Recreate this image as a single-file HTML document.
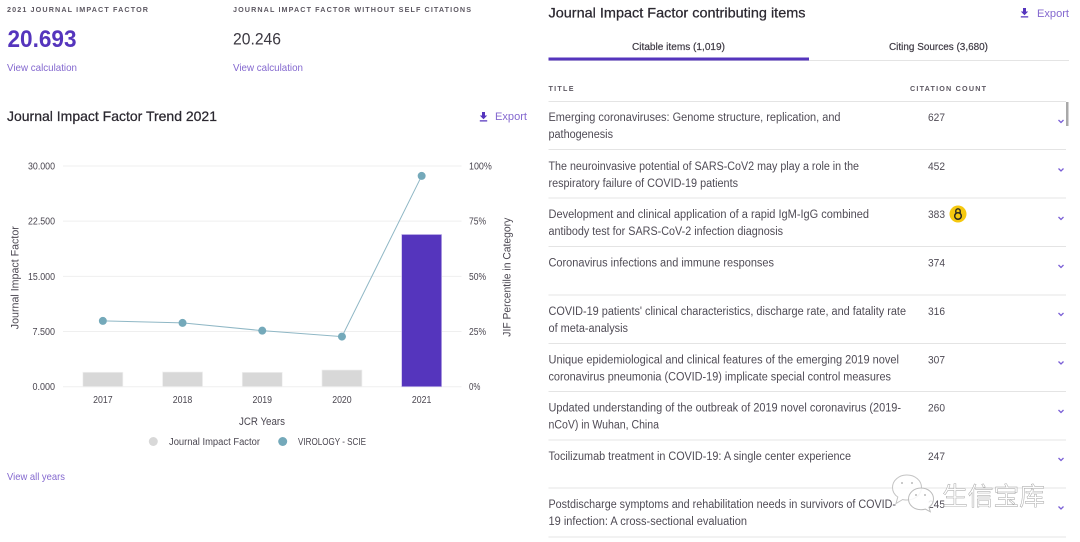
<!DOCTYPE html>
<html lang="en">
<head>
<meta charset="utf-8">
<title>Journal Impact Factor</title>
<style>
html,body{margin:0;padding:0;background:#fff;width:1080px;height:542px;overflow:hidden}
svg{display:block}
text{font-family:"Liberation Sans","Noto Sans CJK SC",sans-serif;fill:#4a4650}
.lab{font-size:7.2px;font-weight:bold;fill:#5d5862}
.link{font-size:10.5px;fill:#8468cf}
.h{font-size:14px;fill:#2b2830;stroke:#2b2830;stroke-width:.25px}
.row{font-size:11.5px;fill:#4f4b55}
.cnt{font-size:11px;fill:#4f4b55}
.tab{font-size:10.5px;fill:#3f3b45;stroke:#3f3b45;stroke-width:.2px}
.rule{stroke:#e4e4e4;stroke-width:1}
.chev{fill:none;stroke:#7a5fd6;stroke-width:1.3}
</style>
</head>
<body>
<svg id="page" width="1080" height="542" viewBox="0 0 1080 542" xmlns="http://www.w3.org/2000/svg">
  <rect width="1080" height="542" fill="#fff"/>

  <text class="lab" x="7" y="12" textLength="141" lengthAdjust="spacing">2021 JOURNAL IMPACT FACTOR</text>
  <text x="7.5" y="47" font-size="24" font-weight="bold" style="fill:#5535bd" textLength="69" lengthAdjust="spacingAndGlyphs">20.693</text>
  <text class="link" x="7" y="71" textLength="70" lengthAdjust="spacingAndGlyphs">View calculation</text>

  <text class="lab" x="233" y="12" textLength="238" lengthAdjust="spacing">JOURNAL IMPACT FACTOR WITHOUT SELF CITATIONS</text>
  <text x="233" y="44.500" font-size="17" style="fill:#3b3841" textLength="48" lengthAdjust="spacingAndGlyphs">20.246</text>
  <text class="link" x="233" y="71" textLength="70" lengthAdjust="spacingAndGlyphs">View calculation</text>

  <text class="h" x="7" y="121" textLength="210" lengthAdjust="spacingAndGlyphs">Journal Impact Factor Trend 2021</text>
  <g>
    <path d="M482 112h3v3.500h2.200l-3.700 3.700-3.700-3.700H482zM479.800 120.300h7.400v1.200h-7.400z" fill="#5535bd"/>
    <text x="495" y="120" font-size="11" style="fill:#8468cf" textLength="32" lengthAdjust="spacingAndGlyphs">Export</text>
  </g>

  <g id="chart"></g>

  <g>
    <circle cx="153.300" cy="441.500" r="4.500" fill="#d8d8d8"/>
    <text x="169" y="445" font-size="10" textLength="91" lengthAdjust="spacingAndGlyphs">Journal Impact Factor</text>
    <circle cx="282.700" cy="441.500" r="4.500" fill="#74a9ba"/>
    <text x="298" y="445" font-size="10" textLength="68" lengthAdjust="spacingAndGlyphs">VIROLOGY - SCIE</text>
  </g>
  <text class="link" x="7" y="480" textLength="58" lengthAdjust="spacingAndGlyphs">View all years</text>

  <text class="h" x="548.500" y="17.500" textLength="257" lengthAdjust="spacingAndGlyphs">Journal Impact Factor contributing items</text>
  <g>
    <path d="M1023 8h3v3.500h2.200l-3.700 3.700-3.700-3.700h2.200zM1020.800 16.300h7.400v1.200h-7.400z" fill="#5535bd"/>
    <text x="1037" y="17" font-size="11" style="fill:#8468cf" textLength="32" lengthAdjust="spacingAndGlyphs">Export</text>
  </g>

  <text class="tab" x="632" y="50" textLength="93" lengthAdjust="spacingAndGlyphs">Citable items (1,019)</text>
  <text class="tab" x="889" y="50" textLength="99" lengthAdjust="spacingAndGlyphs">Citing Sources (3,680)</text>
  <line class="rule" x1="548.500" y1="60.500" x2="1069" y2="60.500"/>
  <rect x="548.500" y="57.500" width="260.500" height="3" fill="#5535bd"/>

  <text class="lab" x="548.500" y="91" textLength="25" lengthAdjust="spacing">TITLE</text>
  <text class="lab" x="910" y="91" textLength="76" lengthAdjust="spacing">CITATION COUNT</text>

  <line class="rule" x1="548.500" y1="101.500" x2="1066" y2="101.500"/>
  <rect x="1066" y="102" width="2.500" height="24" fill="#a9a9a9"/>

  <g>
    <text class="row" x="548.500" y="121" textLength="292" lengthAdjust="spacingAndGlyphs">Emerging coronaviruses: Genome structure, replication, and</text>
    <text class="row" x="548.500" y="138" textLength="64.500" lengthAdjust="spacingAndGlyphs">pathogenesis</text>
    <text class="cnt" x="928" y="121" textLength="17" lengthAdjust="spacingAndGlyphs">627</text>
    <polyline class="chev" points="1058.500,120 1061,122.500 1063.500,120"/>
    <line class="rule" x1="548.500" y1="149.500" x2="1066" y2="149.500"/>
  </g>
  <g>
    <text class="row" x="548.500" y="170" textLength="310.500" lengthAdjust="spacingAndGlyphs">The neuroinvasive potential of SARS-CoV2 may play a role in the</text>
    <text class="row" x="548.500" y="187" textLength="189.500" lengthAdjust="spacingAndGlyphs">respiratory failure of COVID-19 patients</text>
    <text class="cnt" x="928" y="170" textLength="17" lengthAdjust="spacingAndGlyphs">452</text>
    <polyline class="chev" points="1058.500,168.500 1061,171 1063.500,168.500"/>
    <line class="rule" x1="548.500" y1="198" x2="1066" y2="198"/>
  </g>
  <g>
    <text class="row" x="548.500" y="218" textLength="320.500" lengthAdjust="spacingAndGlyphs">Development and clinical application of a rapid IgM-IgG combined</text>
    <text class="row" x="548.500" y="235" textLength="234.500" lengthAdjust="spacingAndGlyphs">antibody test for SARS-CoV-2 infection diagnosis</text>
    <text class="cnt" x="928" y="218" textLength="17" lengthAdjust="spacingAndGlyphs">383</text>
    <g>
      <circle cx="958" cy="214" r="8.500" fill="#f5c80f"/>
      <circle cx="958" cy="216" r="3.300" fill="none" stroke="#2b2820" stroke-width="1.500"/>
      <path d="M955.800 212.800v-1.800a2.200 2.200 0 0 1 4.400 0v2.300" fill="none" stroke="#2b2820" stroke-width="1.400"/>
    </g>
    <polyline class="chev" points="1058.500,217 1061,219.500 1063.500,217"/>
    <line class="rule" x1="548.500" y1="246.500" x2="1066" y2="246.500"/>
  </g>
  <g>
    <text class="row" x="548.500" y="266.500" textLength="225.500" lengthAdjust="spacingAndGlyphs">Coronavirus infections and immune responses</text>
    <text class="cnt" x="928" y="266.500" textLength="17" lengthAdjust="spacingAndGlyphs">374</text>
    <polyline class="chev" points="1058.500,265 1061,267.500 1063.500,265"/>
    <line class="rule" x1="548.500" y1="295" x2="1066" y2="295"/>
  </g>
  <g>
    <text class="row" x="548.500" y="315" textLength="357.500" lengthAdjust="spacingAndGlyphs">COVID-19 patients' clinical characteristics, discharge rate, and fatality rate</text>
    <text class="row" x="548.500" y="332" textLength="79.500" lengthAdjust="spacingAndGlyphs">of meta-analysis</text>
    <text class="cnt" x="928" y="315" textLength="17" lengthAdjust="spacingAndGlyphs">316</text>
    <polyline class="chev" points="1058.500,313 1061,315.500 1063.500,313"/>
    <line class="rule" x1="548.500" y1="343.500" x2="1066" y2="343.500"/>
  </g>
  <g>
    <text class="row" x="548.500" y="363.500" textLength="350.500" lengthAdjust="spacingAndGlyphs">Unique epidemiological and clinical features of the emerging 2019 novel</text>
    <text class="row" x="548.500" y="380.500" textLength="342.500" lengthAdjust="spacingAndGlyphs">coronavirus pneumonia (COVID-19) implicate special control measures</text>
    <text class="cnt" x="928" y="363.500" textLength="17" lengthAdjust="spacingAndGlyphs">307</text>
    <polyline class="chev" points="1058.500,361.500 1061,364 1063.500,361.500"/>
    <line class="rule" x1="548.500" y1="391.500" x2="1066" y2="391.500"/>
  </g>
  <g>
    <text class="row" x="548.500" y="411.500" textLength="352.500" lengthAdjust="spacingAndGlyphs">Updated understanding of the outbreak of 2019 novel coronavirus (2019-</text>
    <text class="row" x="548.500" y="428.500" textLength="110.500" lengthAdjust="spacingAndGlyphs">nCoV) in Wuhan, China</text>
    <text class="cnt" x="928" y="411.500" textLength="17" lengthAdjust="spacingAndGlyphs">260</text>
    <polyline class="chev" points="1058.500,410 1061,412.500 1063.500,410"/>
    <line class="rule" x1="548.500" y1="440" x2="1066" y2="440"/>
  </g>
  <g>
    <text class="row" x="548.500" y="460" textLength="302.500" lengthAdjust="spacingAndGlyphs">Tocilizumab treatment in COVID-19: A single center experience</text>
    <text class="cnt" x="928" y="460" textLength="17" lengthAdjust="spacingAndGlyphs">247</text>
    <polyline class="chev" points="1058.500,458 1061,460.500 1063.500,458"/>
    <line class="rule" x1="548.500" y1="488" x2="1066" y2="488"/>
  </g>
  <g>
    <text class="row" x="548.500" y="508" textLength="347.500" lengthAdjust="spacingAndGlyphs">Postdischarge symptoms and rehabilitation needs in survivors of COVID-</text>
    <text class="row" x="548.500" y="525" textLength="198.500" lengthAdjust="spacingAndGlyphs">19 infection: A cross-sectional evaluation</text>
    <text class="cnt" x="928" y="508" textLength="17" lengthAdjust="spacingAndGlyphs">245</text>
    <polyline class="chev" points="1058.500,506.500 1061,509 1063.500,506.500"/>
    <line class="rule" x1="548.500" y1="537" x2="1066" y2="537"/>
  </g>

  <g>
    <path d="M907 475c8 0 14.500 5.500 14.500 12.500S915 500 907 500c-1.500 0-3 0-4.300-.5l-6.700 4 1.800-6.500c-3.500-2.300-5.300-5.500-5.300-9.500 0-7 6.500-12.500 14-12.500z" fill="#fff" fill-opacity=".75" stroke="#c4c4c4"/>
    <circle cx="902" cy="483" r="1" fill="#bbb"/>
    <circle cx="912" cy="483" r="1" fill="#bbb"/>
    <path d="M921 488c7 0 12.500 4.700 12.500 11 0 3.500-1.700 6.300-4.500 8.300l1.300 4.500-5-2.700c-1.300.4-2.800.6-4.300.6-7 0-12.500-4.700-12.500-10.700s5.500-11 12.500-11z" fill="#fff" fill-opacity=".85" stroke="#bcbcbc"/>
    <circle cx="916" cy="495" r="1" fill="#bbb"/>
    <circle cx="925" cy="495" r="1" fill="#bbb"/>
    <text x="942" y="505" font-size="25" style="fill:#fff;fill-opacity:.7;stroke:#a2a2a2;stroke-width:.45;font-family:'Liberation Sans','WenQuanYi Zen Hei','Noto Sans CJK SC',sans-serif" textLength="103" lengthAdjust="spacingAndGlyphs">生信宝库</text>
  </g>
</svg>

<script>
var years = ["2017", "2018", "2019", "2020", "2021"];
var impactFactor = [1.96, 2.0, 1.95, 2.27, 20.693];
var percentile = [29.8, 28.9, 25.4, 22.7, 95.5];
var leftTicks = [0, 7.5, 15, 22.5, 30];
var leftTickLabels = ["0.000", "7.500", "15.000", "22.500", "30.000"];
var rightTicks = [0, 25, 50, 75, 100];
var rightTickLabels = ["0%", "25%", "50%", "75%", "100%"];

var NS = "http://www.w3.org/2000/svg";
var chart = document.getElementById("chart");
var plotLeft = 63, plotRight = 461.5, plotTop = 166, plotBottom = 386.7;
var band = (plotRight - plotLeft) / years.length;
function xScale(i) { return plotLeft + band * (i + 0.5); }
function yLeft(v) { return plotBottom - (v / 30) * (plotBottom - plotTop); }
function yRight(v) { return plotBottom - (v / 100) * (plotBottom - plotTop); }
function make(tag, attrs, txt) {
  var el = document.createElementNS(NS, tag);
  for (var k in attrs) { el.setAttribute(k, attrs[k]); }
  if (txt !== undefined) { el.textContent = txt; }
  chart.appendChild(el);
  return el;
}
var el, i;
for (i = 0; i < leftTicks.length; i++) {
  el = make("line", {x1: plotLeft, x2: plotRight, y1: yLeft(leftTicks[i]), y2: yLeft(leftTicks[i]), stroke: "#efefef", "stroke-width": 1});
  
  
  el = make("text", {x: 55, y: yLeft(leftTicks[i]) + 3.5, "text-anchor": "end", "font-size": 10, textLength: leftTickLabels[i].length * 4.5, lengthAdjust: "spacingAndGlyphs"}, leftTickLabels[i]);
  
  
}
for (i = 0; i < rightTicks.length; i++) {
  el = make("text", {x: 469, y: yRight(rightTicks[i]) + 3.5, "font-size": 10, textLength: rightTickLabels[i].length * 5.7, lengthAdjust: "spacingAndGlyphs"}, rightTickLabels[i]);
  
  
}
for (i = 0; i < years.length; i++) {
  var last = i === years.length - 1;
  var barTop = yLeft(impactFactor[i]);
  el = make("rect", {x: xScale(i) - 20, y: barTop, width: 40, height: plotBottom - barTop, fill: last ? "#5535bd" : "#d8d8d8", stroke: last ? "#c9bdec" : "#f0f0f0", "stroke-width": 0.7});
  
  
  el = make("text", {x: xScale(i), y: 403, "text-anchor": "middle", "font-size": 10, textLength: 19.5, lengthAdjust: "spacingAndGlyphs"}, years[i]);
  
  
}
var linePoints = percentile.map(function (v, n) { return xScale(n) + "," + yRight(v); }).join(" ");
el = make("polyline", {points: linePoints, fill: "none", stroke: "#8fb7c5", "stroke-width": 1});


for (i = 0; i < percentile.length; i++) {
  el = make("circle", {cx: xScale(i), cy: yRight(percentile[i]), r: 4, fill: "#74a9ba"});
  
  
}
el = make("text", {x: 262, y: 425, "text-anchor": "middle", "font-size": 11, textLength: 46, lengthAdjust: "spacingAndGlyphs"}, "JCR Years");


el = make("text", {x: 0, y: 0, "text-anchor": "middle", "font-size": 11, transform: "translate(18.5 277.7) rotate(-90)", textLength: 103, lengthAdjust: "spacingAndGlyphs"}, "Journal Impact Factor");


el = make("text", {x: 0, y: 0, "text-anchor": "middle", "font-size": 11, transform: "translate(510.5 277.2) rotate(-90)", textLength: 119, lengthAdjust: "spacingAndGlyphs"}, "JIF Percentile in Category");


</script>
</body>
</html>
